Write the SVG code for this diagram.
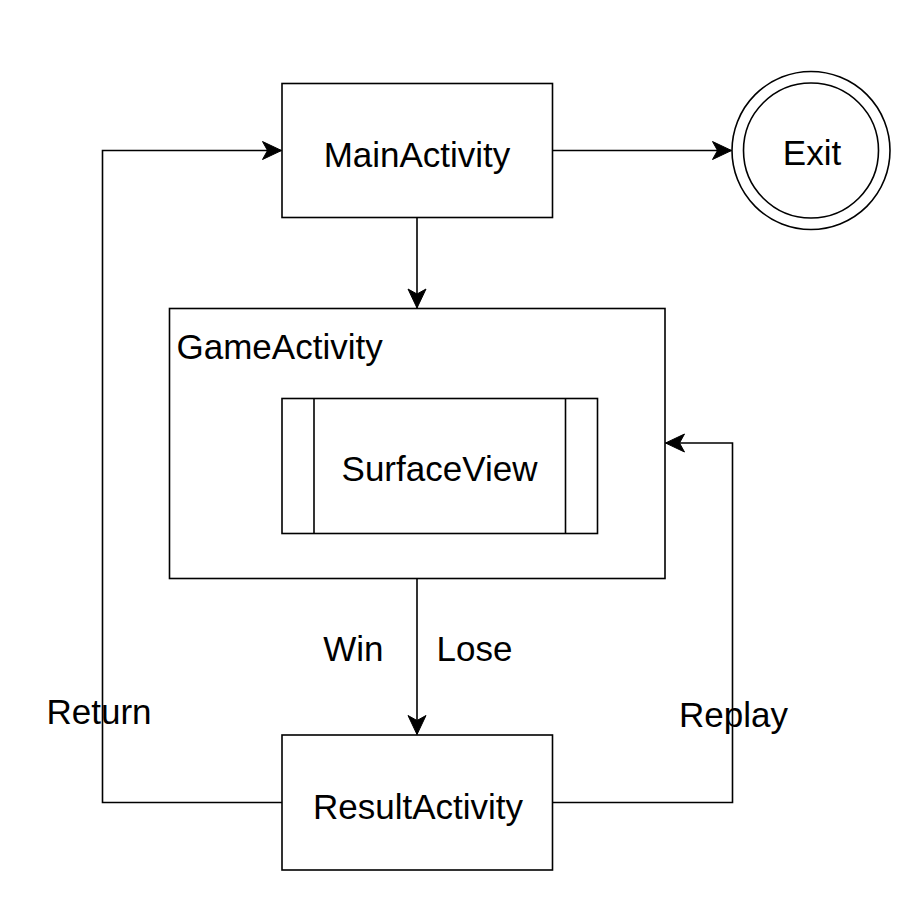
<svg xmlns="http://www.w3.org/2000/svg" width="924" height="921" viewBox="0 0 924 921">
<style>
.box{fill:#ffffff;stroke:#000000;stroke-width:1.6}
.edge{fill:none;stroke:#000000;stroke-width:1.6}
.t{font-family:"Liberation Sans",Arial,Helvetica,sans-serif;font-size:35px;fill:#000000}
.c{text-anchor:middle}
</style>
<defs>
<marker id="arrow" markerUnits="userSpaceOnUse" markerWidth="24" markerHeight="22" viewBox="-21 -11 22 22" refX="0" refY="0" orient="auto">
<path d="M0,0 L-19,-9 L-14,0 L-19,9 Z" fill="#000000" stroke="#000000" stroke-width="1"/>
</marker>
</defs>
<rect width="924" height="921" fill="#ffffff"/>
<g id="connectors">
<path class="edge" d="M552.5,150.5 L731.5,150.5" marker-end="url(#arrow)"/>
<path class="edge" d="M417,217.5 L417,308" marker-end="url(#arrow)"/>
<path class="edge" d="M417,578.5 L417,734.5" marker-end="url(#arrow)"/>
<path class="edge" d="M282,802.5 L102.5,802.5 L102.5,150.5 L281.5,150.5" marker-end="url(#arrow)"/>
<path class="edge" d="M552.5,802.5 L732.5,802.5 L732.5,443 L665.5,443" marker-end="url(#arrow)"/>
<text class="t" x="383.5" y="661" text-anchor="end">Win</text>
<text class="t" x="436.5" y="661">Lose</text>
<text class="t c" x="99" y="723.5">Return</text>
<text class="t c" x="733.5" y="727">Replay</text>
</g>
<g id="MainActivity">
<rect class="box" x="282" y="83.5" width="270.5" height="134"/>
<text class="t c" x="417" y="166.5">MainActivity</text>
</g>
<g id="Exit">
<circle class="box" cx="811" cy="150.5" r="79"/>
<circle class="box" cx="811" cy="150.5" r="67.5"/>
<text class="t c" x="812" y="165">Exit</text>
</g>
<g id="GameActivity">
<rect class="box" x="169.5" y="308.5" width="495.5" height="270"/>
<text class="t" x="176.5" y="358.5">GameActivity</text>
</g>
<g id="SurfaceView">
<rect class="box" x="282" y="398.5" width="315.5" height="135"/>
<line class="edge" x1="314" y1="398.5" x2="314" y2="533.5"/>
<line class="edge" x1="565.5" y1="398.5" x2="565.5" y2="533.5"/>
<text class="t c" x="439.5" y="481">SurfaceView</text>
</g>
<g id="ResultActivity">
<rect class="box" x="282" y="735" width="270.5" height="135"/>
<text class="t c" x="418" y="818.5">ResultActivity</text>
</g>
</svg>
